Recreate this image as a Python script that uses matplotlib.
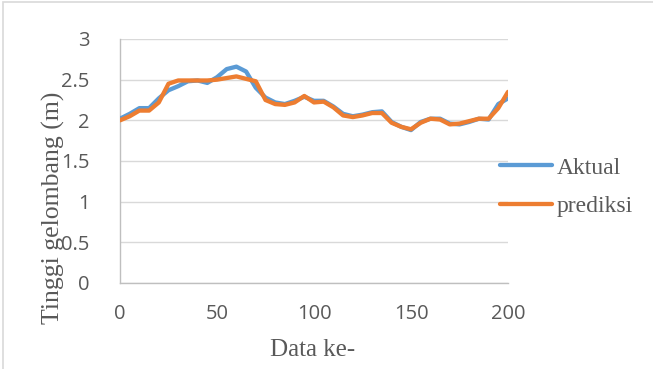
import matplotlib
matplotlib.use("Agg")
import matplotlib.pyplot as plt
from matplotlib.lines import Line2D
from matplotlib.patches import Rectangle

x_index = [0, 5, 10, 15, 20, 25, 30, 35, 40, 45, 50, 55, 60, 65, 70, 75, 80, 85, 90, 95,
           100, 105, 110, 115, 120, 125, 130, 135, 140, 145, 150, 155, 160, 165, 170, 175,
           180, 185, 190, 195, 200]
aktual = [2.02, 2.08, 2.15, 2.15, 2.27, 2.37, 2.42, 2.48, 2.49, 2.46, 2.53, 2.63, 2.66,
          2.60, 2.40, 2.28, 2.22, 2.20, 2.24, 2.29, 2.24, 2.24, 2.17, 2.08, 2.05, 2.07,
          2.10, 2.11, 1.98, 1.92, 1.88, 1.98, 2.02, 2.02, 1.96, 1.95, 1.98, 2.02, 2.01,
          2.20, 2.27]
prediksi = [2.00, 2.05, 2.12, 2.12, 2.22, 2.45, 2.49, 2.49, 2.49, 2.49, 2.50, 2.52, 2.54,
            2.51, 2.48, 2.25, 2.20, 2.19, 2.22, 2.30, 2.22, 2.23, 2.16, 2.06, 2.04, 2.06,
            2.09, 2.09, 1.97, 1.92, 1.89, 1.97, 2.02, 2.01, 1.95, 1.96, 1.99, 2.02, 2.02,
            2.15, 2.35]
xticks = [0, 50, 100, 150, 200]
yticks = [0, 0.5, 1, 1.5, 2, 2.5, 3]
ytick_labels = ["0", "0.5", "1", "1.5", "2", "2.5", "3"]

blue = "#5B9BD5"
orange = "#ED7D31"
txt = "#595959"

fig = plt.figure(figsize=(6.53, 3.69), dpi=100)
fig.patches.append(Rectangle((3/653, -0.1), 1.1, (369-2)/369 + 0.1, transform=fig.transFigure,
                             fill=False, edgecolor="#D9D9D9", linewidth=1.2))
ax = fig.add_axes([120/653, (369-283)/369, (508-120)/653, (283-39)/369])

ax.plot(x_index, aktual, color=blue, lw=3.1, solid_joinstyle="round", solid_capstyle="round", zorder=3)
ax.plot(x_index, prediksi, color=orange, lw=3.1, solid_joinstyle="round", solid_capstyle="round", zorder=4)

ax.set_xlim(0, 200)
ax.set_ylim(0, 3)
ax.set_xticks(xticks)
ax.set_yticks(yticks)
ax.set_yticklabels(ytick_labels)
ax.grid(axis="y", color="#D9D9D9", lw=1.0)
ax.set_axisbelow(True)
for s in ["top", "right"]:
    ax.spines[s].set_visible(False)
for s in ["left", "bottom"]:
    ax.spines[s].set_color("#BFBFBF")
    ax.spines[s].set_linewidth(1.0)
ax.tick_params(length=0, labelsize=14.5, labelcolor=txt)
ax.tick_params(axis="x", pad=15)
ax.tick_params(axis="y", pad=22)
for lab in ax.get_xticklabels() + ax.get_yticklabels():
    lab.set_family("Open Sans")

fig.text(53/653, 1 - 208/369, "Tinggi gelombang (m)", rotation=90, ha="center", va="center",
         family="Liberation Serif", fontsize=18.5, color=txt)
fig.text(313/653, 1 - 350/369, "Data ke-", ha="center", va="center",
         family="Liberation Serif", fontsize=18, color=txt)

handles = [Line2D([], [], color=blue, lw=3.1, solid_capstyle="round"),
           Line2D([], [], color=orange, lw=3.1, solid_capstyle="round")]
leg = fig.legend(handles, ["Aktual", "prediksi"], loc="center left",
                 bbox_to_anchor=(488/653, 1 - 187/369), frameon=False,
                 prop={"family": "Liberation Serif", "size": 17}, labelcolor=txt,
                 handlelength=2.2, handletextpad=0.2, labelspacing=0.72, borderpad=0)

fig.savefig("out.png", dpi=100)
